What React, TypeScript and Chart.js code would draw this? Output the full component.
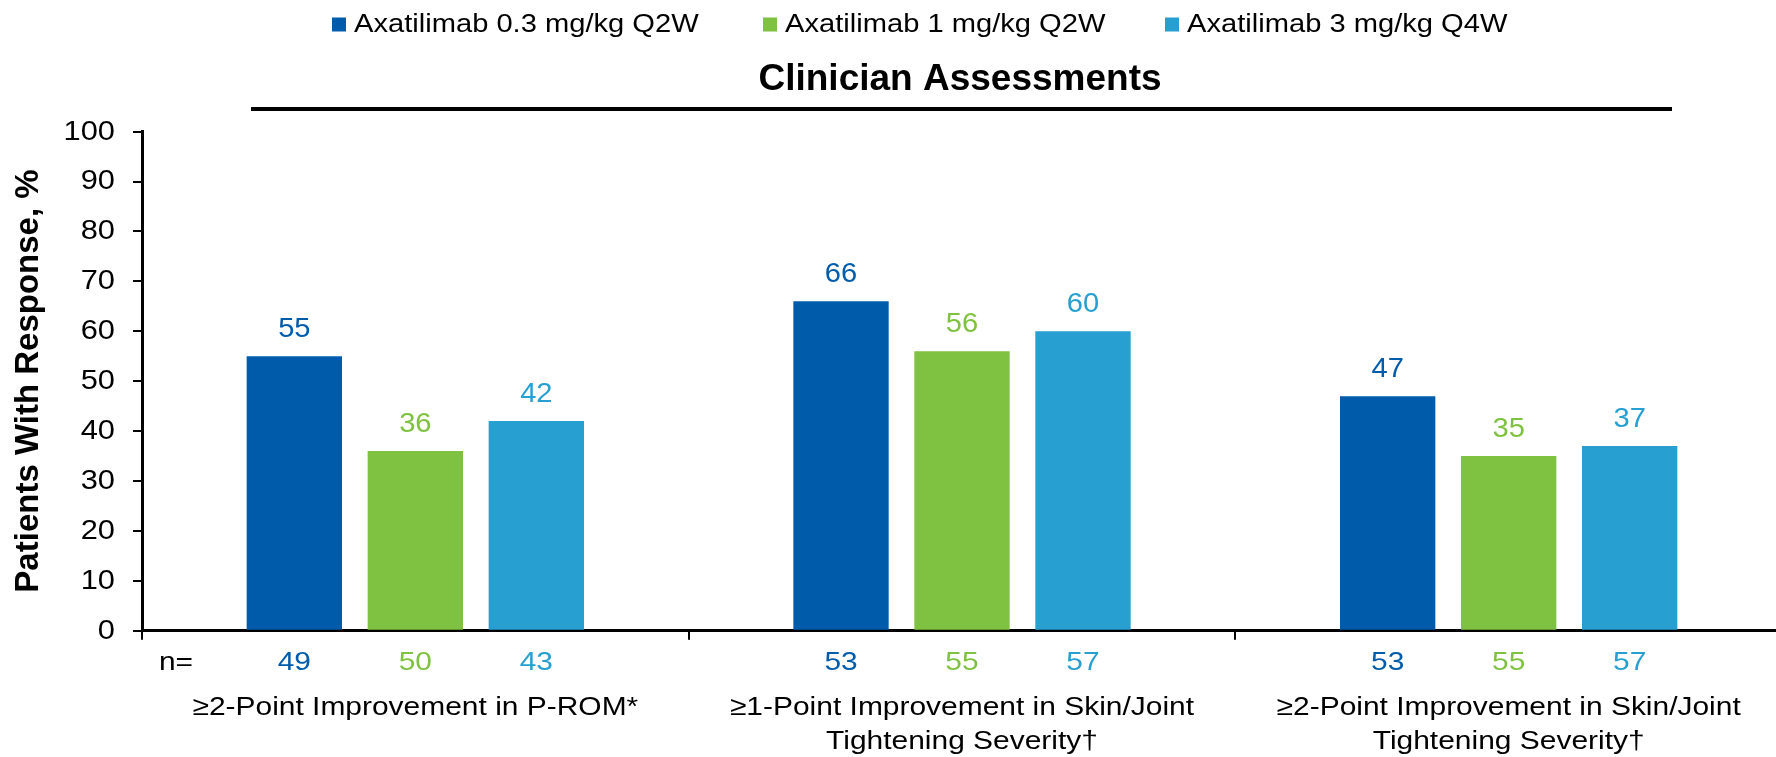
import React, { useEffect, useRef } from 'react';
import { Chart, registerables } from 'chart.js';

Chart.register(...registerables);

// ---------- data ----------
const categoryLines: string[][] = [
  ['≥2-Point Improvement in P-ROM*'],
  ['≥1-Point Improvement in Skin/Joint', 'Tightening Severity†'],
  ['≥2-Point Improvement in Skin/Joint', 'Tightening Severity†'],
];
const seriesNames = ['Axatilimab 0.3 mg/kg Q2W', 'Axatilimab 1 mg/kg Q2W', 'Axatilimab 3 mg/kg Q4W'];
const seriesColors = ['#005CAB', '#7FC241', '#279FD0'];
const dose03Values = [55, 66, 47];
const dose1Values = [36, 56, 35];
const dose3Values = [42, 60, 37];
const dose03N = [49, 53, 53];
const dose1N = [50, 55, 55];
const dose3N = [43, 57, 57];
const nPrefix = 'n=';
const yTickLabels = ['0', '10', '20', '30', '40', '50', '60', '70', '80', '90', '100'];
const chartTitle = 'Clinician Assessments';
const yAxisTitle = 'Patients With Response, %';

const seriesValues = [dose03Values, dose1Values, dose3Values];
const seriesN = [dose03N, dose1N, dose3N];

const FONT = '"Liberation Sans", Arial, sans-serif';

function drawText(
  ctx: CanvasRenderingContext2D,
  text: string,
  x: number,
  y: number,
  font: string,
  color: string,
  align: CanvasTextAlign,
  sx: number
) {
  ctx.save();
  ctx.translate(x, y);
  ctx.scale(sx, 1);
  ctx.font = font;
  ctx.fillStyle = color;
  ctx.textAlign = align;
  ctx.textBaseline = 'alphabetic';
  ctx.fillText(text, 0, 0);
  ctx.restore();
}

const overlayPlugin = {
  id: 'overlay',
  afterDraw(chart: any) {
    const ctx: CanvasRenderingContext2D = chart.ctx;
    const xScale = chart.scales.x;
    const yScale = chart.scales.y;

    // legend
    const legendX = [332, 763, 1165];
    chart.data.datasets.forEach((ds: any, i: number) => {
      ctx.fillStyle = ds.backgroundColor;
      ctx.fillRect(legendX[i], 17.5, 14, 14);
      drawText(ctx, ds.label, legendX[i] + 22, 31.7, `26px ${FONT}`, '#000', 'left', 1.12);
    });

    // title + underline
    drawText(ctx, chartTitle, 960, 90, `bold 37px ${FONT}`, '#000', 'center', 1);
    ctx.fillStyle = '#000';
    ctx.fillRect(251, 107, 1421, 4);

    // y axis title
    ctx.save();
    ctx.translate(37.5, 381);
    ctx.rotate(-Math.PI / 2);
    ctx.font = `bold 33px ${FONT}`;
    ctx.fillStyle = '#000';
    ctx.textAlign = 'center';
    ctx.textBaseline = 'alphabetic';
    ctx.fillText(yAxisTitle, 0, 0);
    ctx.restore();

    // y tick labels
    yScale.ticks.forEach((t: any, i: number) => {
      const py = yScale.getPixelForValue(t.value);
      const lbl = yTickLabels[i] ?? String(t.value);
      drawText(ctx, lbl, 115, py + 7.8, `28px ${FONT}`, '#000', 'right', 1.1);
    });

    // value labels above bars + n row
    drawText(ctx, nPrefix, 176, 669.5, `26px ${FONT}`, '#000', 'center', 1.15);
    chart.data.datasets.forEach((ds: any, i: number) => {
      const meta = chart.getDatasetMeta(i);
      meta.data.forEach((bar: any, j: number) => {
        drawText(ctx, String(ds.data[j]), bar.x, bar.y - 19.5, `28px ${FONT}`, ds.backgroundColor, 'center', 1.04);
        drawText(ctx, String(seriesN[i][j]), bar.x, 669.5, `26px ${FONT}`, ds.backgroundColor, 'center', 1.15);
      });
    });

    // category labels
    categoryLines.forEach((lines, j) => {
      const cx = xScale.getPixelForValue(j);
      lines.forEach((ln, k) => {
        drawText(ctx, ln, cx, 714.5 + k * 34.3, `26.5px ${FONT}`, '#000', 'center', 1.13);
      });
    });
  },
};

export default function App() {
  const canvasRef = useRef<HTMLCanvasElement | null>(null);

  useEffect(() => {
    if (!canvasRef.current) return;
    const chart = new Chart(canvasRef.current, {
      type: 'bar',
      data: {
        labels: categoryLines.map((l) => l.join(' ')),
        datasets: seriesNames.map((name, i) => ({
          label: name,
          data: seriesValues[i],
          backgroundColor: seriesColors[i],
          borderWidth: 0,
          categoryPercentage: 0.664,
          barPercentage: 0.788,
        })),
      },
      options: {
        animation: false,
        responsive: false,
        devicePixelRatio: 1,
        layout: { padding: { top: 131.7, left: 0, right: 0, bottom: 0 } },
        plugins: {
          legend: { display: false },
          title: { display: false },
          tooltip: { enabled: false },
        },
        scales: {
          x: {
            offset: true,
            grid: {
              offset: true,
              drawOnChartArea: false,
              drawTicks: true,
              tickLength: 9,
              color: '#000',
              lineWidth: 2,
            },
            border: { display: true, color: '#000', width: 3 },
            ticks: { display: false },
            afterFit: (s: any) => {
              s.height = 126.3;
            },
          },
          y: {
            min: 0,
            max: 100,
            ticks: { stepSize: 10, display: false },
            grid: {
              drawOnChartArea: false,
              drawTicks: true,
              tickLength: 9,
              color: '#000',
              lineWidth: 2,
            },
            border: { display: true, color: '#000', width: 3 },
            afterFit: (s: any) => {
              s.width = 142;
            },
          },
        },
      } as any,
      plugins: [overlayPlugin],
    });
    return () => chart.destroy();
  }, []);

  return (
    <div
      style={{
        position: 'fixed',
        left: 0,
        top: 0,
        width: 1776,
        height: 757,
        overflow: 'hidden',
        background: '#fff',
      }}
    >
      <canvas
        ref={canvasRef}
        width={1782}
        height={757}
        style={{ display: 'block', width: '1782px', height: '757px' }}
      />
    </div>
  );
}
